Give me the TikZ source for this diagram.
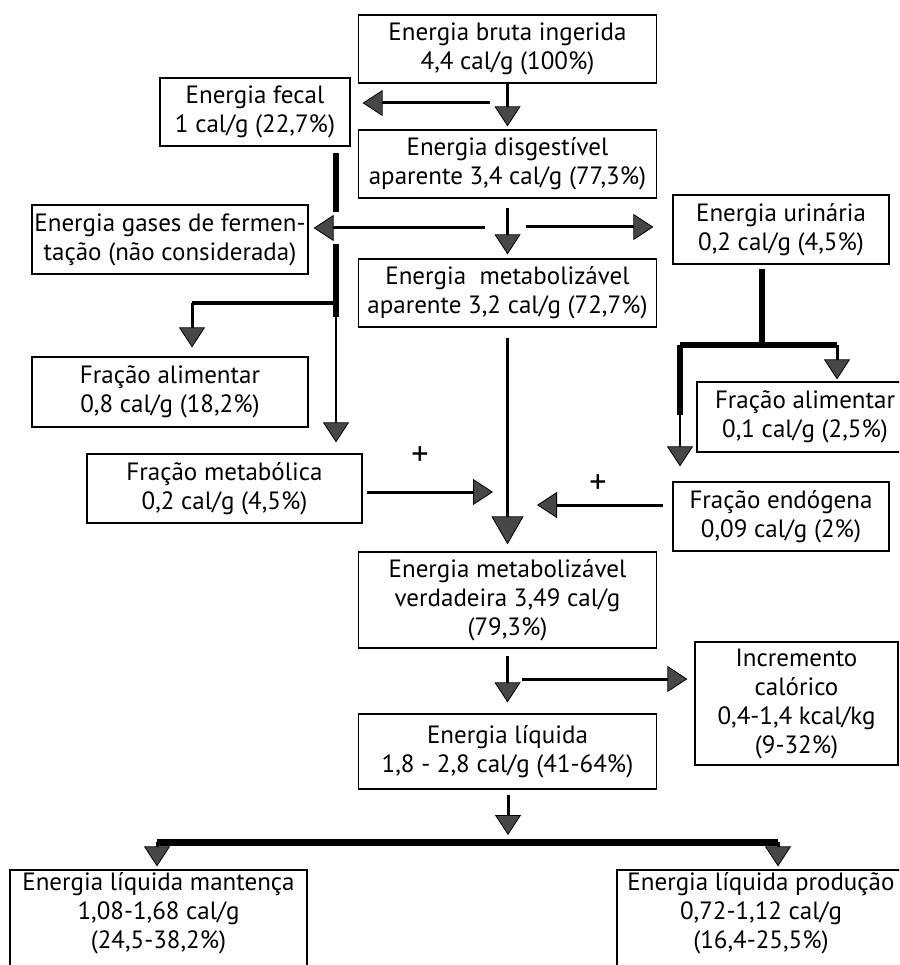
\documentclass[tikz,border=0pt]{standalone}
\usepackage{fontspec}
\setmainfont{PT Sans}
\usetikzlibrary{arrows.meta}

\tikzset{
  caixa/.style={draw, line width=1.2pt, align=center, inner sep=0pt,
    font=\fontsize{25}{29}\selectfont},
  ponta/.tip={Triangle[length=20pt,width=26pt,fill=black!72,line width=0.8pt]},
  pontagrande/.tip={Triangle[length=28pt,width=32pt,fill=black!72,line width=0.8pt]},
  seta/.style={line width=3pt, -ponta},
  grossa/.style={line width=5.5pt},
  fina/.style={line width=2.2pt},
  sinal/.style={inner sep=0pt, font=\fontsize{34}{34}\selectfont},
}

\begin{document}
\begin{tikzpicture}[x=1pt, y=-1pt]
  \useasboundingbox (0,0) rectangle (899,965);
  \clip (0,0) rectangle (899,965);

  % caixas
  \node[caixa, minimum width=298pt, minimum height=68pt] (bruta) at (507.5,49) {Energia bruta ingerida\\4,4 cal/g (100\%)};
  \node[caixa, minimum width=190pt, minimum height=68pt] (fecal) at (255,112) {Energia fecal\\1 cal/g (22,7\%)};
  \node[caixa, minimum width=298pt, minimum height=68pt] (digest) at (507.5,164) {Energia disgestível\\aparente 3,4 cal/g (77,3\%)};
  \node[caixa, minimum width=276pt, minimum height=69pt] (gases) at (170,239.5) {Energia gases de fermen-\\tação (não considerada)};
  \node[caixa, minimum width=216pt, minimum height=69pt] (urin) at (781,229.5) {Energia urinária\\0,2 cal/g (4,5\%)};
  \node[caixa, minimum width=298pt, minimum height=68pt] (metap) at (507.5,293) {Energia\ \ metabolizável\\aparente 3,2 cal/g (72,7\%)};
  \node[caixa, minimum width=276pt, minimum height=70pt] (falim1) at (170,392) {Fração alimentar\\0,8 cal/g (18,2\%)};
  \node[caixa, minimum width=216pt, minimum height=70pt] (falim2) at (805,417) {Fração alimentar\\0,1 cal/g (2,5\%)};
  \node[caixa, minimum width=275pt, minimum height=69pt] (fmet) at (224.5,488.5) {Fração metabólica\\0,2 cal/g (4,5\%)};
  \node[caixa, minimum width=216pt, minimum height=69pt] (fendo) at (781,516.5) {Fração endógena\\0,09 cal/g (2\%)};
  \node[caixa, minimum width=298pt, minimum height=96pt] (emv) at (507.5,600) {Energia metabolizável\\verdadeira 3,49 cal/g\\(79,3\%)};
  \node[caixa, minimum width=203pt, minimum height=123pt] (incr) at (796.5,703.5) {Incremento\\calórico\\0,4-1,4 kcal/kg\\(9-32\%)};
  \node[caixa, minimum width=298pt, minimum height=75pt] (eliq) at (507.5,751.5) {Energia líquida\\1,8 - 2,8 cal/g (41-64\%)};
  \node[caixa, minimum width=297pt, minimum height=110pt] (mant) at (158.5,925) {Energia líquida mantença\\1,08-1,68 cal/g\\(24,5-38,2\%)\\ };
  \node[caixa, minimum width=288pt, minimum height=110pt] (prod) at (761,925) {Energia líquida produção\\0,72-1,12 cal/g\\(16,4-25,5\%)\\ };

  \node[sinal] (mais1) at (420,456) {+};
  \node[sinal] (mais2) at (598,484) {+};

  % pontos soltos
  \coordinate (fe0) at (490,103);
  \coordinate (g0) at (485,228);
  \coordinate (u0) at (526,227);
  \coordinate (f1) at (336,153);
  \coordinate (f2) at (336,212);
  \coordinate (f3) at (336,244);
  \coordinate (f4) at (336,317);
  \coordinate (b1) at (336,303);
  \coordinate (b2) at (192,303);
  \coordinate (u1) at (762,269);
  \coordinate (u2) at (762,345);
  \coordinate (u3) at (680,345);
  \coordinate (u4) at (837,345);
  \coordinate (u5) at (680,415);
  \coordinate (m0) at (367,492);
  \coordinate (m1) at (493,492);
  \coordinate (e0) at (663,505);
  \coordinate (e1) at (537,505);
  \coordinate (i0) at (522,679);
  \coordinate (bl) at (157,842);
  \coordinate (br) at (778,842);
  \coordinate (bm) at (508,842);

  % ligacoes
  \draw[seta, shorten >=3pt] (bruta) -- (digest);
  \draw[seta, shorten >=12pt] (fe0) -- (fe0 -| fecal.east);
  \draw[seta, shorten <=9pt, shorten >=4pt] (digest) -- (metap);
  \draw[seta, shorten >=5pt] (g0) -- (g0 -| gases.east);
  \draw[seta, shorten >=19pt] (u0) -- (u0 -| urin.west);
  \draw[grossa] (f1) -- (f2);
  \draw[grossa] (f3) -- (f4);
  \draw[fina, -ponta, shorten >=11pt] (f4) -- (f4 |- fmet.north);
  \draw[line width=4.5pt] (b1) -- (b2);
  \draw[seta, shorten >=9pt] (b2) -- (b2 |- falim1.north);
  \draw[grossa] (u1) -- (u2);
  \draw[grossa] (u3) -- (u4);
  \draw[seta, shorten >=2pt] (u4) -- (u4 |- falim2.north);
  \draw[grossa] (u3) -- (u5);
  \draw[fina, -ponta, shorten >=15pt] (u5) -- (u5 |- fendo.north);
  \draw[fina, -pontagrande, shorten <=10pt, shorten >=7pt] (metap) -- (emv);
  \draw[seta] (m0) -- (m1);
  \draw[seta] (e0) -- (e1);
  \draw[seta, shorten <=7pt, shorten >=11pt] (emv) -- (eliq);
  \draw[seta, shorten >=7pt] (i0) -- (i0 -| incr.west);
  \draw[seta, shorten <=5pt, shorten >=7pt] (eliq.south -| bm) -- (bm);
  \draw[line width=7pt] (bl) -- (br);
  \draw[seta, shorten >=3pt] (bl) -- (bl |- mant.north);
  \draw[seta, shorten >=3pt] (br) -- (br |- prod.north);
\end{tikzpicture}
\end{document}
